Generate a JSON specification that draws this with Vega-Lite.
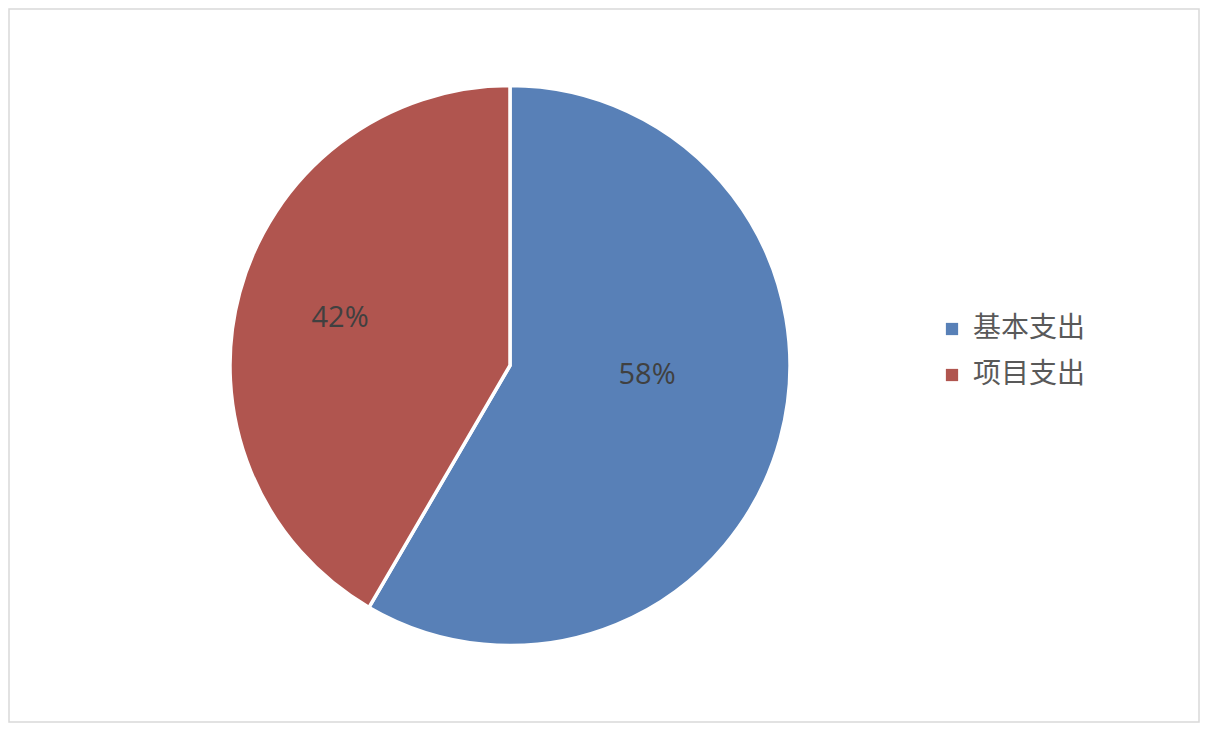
{
  "$schema": "https://vega.github.io/schema/vega-lite/v6.json",
  "width": 1190,
  "height": 713,
  "autosize": {"type": "none"},
  "padding": {"left": 9, "top": 9, "right": 11, "bottom": 14},
  "background": "white",
  "config": {"view": {"stroke": "#d9d9d9", "strokeWidth": 1.5}},
  "data": {"values": [
    {"category": "基本支出", "share": 58.4, "label": "58%", "order": 1},
    {"category": "项目支出", "share": 41.6, "label": "42%", "order": 2}
  ]},
  "encoding": {
    "theta": {"field": "share", "type": "quantitative", "stack": true},
    "order": {"field": "order", "type": "quantitative"},
    "x": {"datum": 0.421, "type": "quantitative", "scale": {"domain": [0, 1]}, "axis": null},
    "y": {"datum": 0.5, "type": "quantitative", "scale": {"domain": [0, 1]}, "axis": null}
  },
  "layer": [
    {
      "mark": {"type": "arc", "outerRadius": 280, "stroke": "white", "strokeWidth": 3.5},
      "encoding": {
        "color": {
          "field": "category", "type": "nominal",
          "scale": {"domain": ["基本支出", "项目支出"], "range": ["#5880B7", "#B0554F"]},
          "legend": {
            "title": null, "orient": "none", "legendX": 929, "legendY": 306,
            "symbolType": "square", "symbolSize": 150, "symbolStrokeWidth": 0,
            "labelFont": "Noto Sans CJK SC", "labelFontSize": 28, "labelColor": "#595959",
            "labelOffset": 7, "rowPadding": 18, "labelLimit": 300
          }
        }
      }
    },
    {
      "mark": {"type": "text", "radius": 142, "dy": -28, "font": "Open Sans", "fontSize": 29, "fill": "#404040"},
      "encoding": {"text": {"condition": {"test": "datum.order == 1", "field": "label"}, "value": ""}}
    },
    {
      "mark": {"type": "text", "radius": 176, "dy": -2, "font": "Open Sans", "fontSize": 29, "fill": "#404040"},
      "encoding": {"text": {"condition": {"test": "datum.order == 2", "field": "label"}, "value": ""}}
    }
  ]
}
